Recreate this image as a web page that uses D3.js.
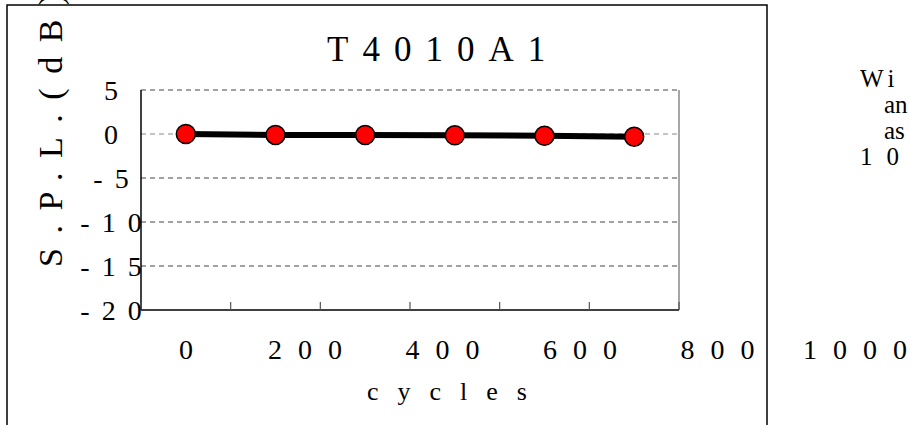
<!DOCTYPE html>
<html>
<head>
<meta charset="utf-8">
<script src="https://cdn.jsdelivr.net/npm/d3@7"></script>
<style>
  body { margin: 0; background: #fff; }
  svg { display: block; }
</style>
</head>
<body>
<div id="container"></div>
<script>
var categories = ['0', '200', '400', '600', '800', '1000'],
    splValues = [0, -0.1, -0.1, -0.15, -0.2, -0.3],
    yTicks = [5, 0, -5, -10, -15, -20],
    sideNotes = ['Wi', 'an', 'as', '10'];

var WIDTH = 910,
    HEIGHT = 425,
    SERIF = '"Liberation Serif", "DejaVu Serif", "Times New Roman", Times, serif';

var svg = d3.select('#container').append('svg')
    .attr('width', WIDTH)
    .attr('height', HEIGHT)
    .attr('font-family', SERIF)
    .style('font-family', SERIF);

// outer chart frame, runs off the bottom of the page
svg.append('rect')
    .attr('x', 7).attr('y', 5)
    .attr('width', 760).attr('height', 440)
    .attr('fill', 'none')
    .attr('stroke', '#000')
    .attr('stroke-width', 1.5);

var x = d3.scaleBand()
    .domain(categories)
    .range([141, 679]);

var y = d3.scaleLinear()
    .domain([-20, 5])
    .range([310, 90]);

// where the stretched category labels land
var labelX = d3.scaleLinear()
    .domain([0, 200, 1000])
    .range([186, 305, 855]);

function cx(d, i) { return x(categories[i]) + x.bandwidth() / 2; }

// gridlines
svg.append('g').selectAll('line')
    .data(yTicks.filter(function(d) { return d > -20; }))
    .enter()
    .append('line')
      .attr('x1', x.range()[0]).attr('x2', x.range()[1])
      .attr('y1', function(d) { return y(d); })
      .attr('y2', function(d) { return y(d); })
      .attr('stroke', function(d) { return d == 0 ? '#888' : '#444'; })
      .attr('stroke-width', 1)
      .attr('stroke-dasharray', '5,4');

// right edge of plot area
svg.append('line')
    .attr('x1', 679).attr('x2', 679)
    .attr('y1', y(5)).attr('y2', y(-20))
    .attr('stroke', '#888')
    .attr('stroke-width', 1.5);

// axes
svg.append('line')
    .attr('x1', x.range()[0]).attr('x2', x.range()[0])
    .attr('y1', y(5)).attr('y2', y(-20))
    .attr('stroke', '#000').attr('stroke-width', 1.5);
svg.append('line')
    .attr('x1', x.range()[0]).attr('x2', x.range()[1])
    .attr('y1', y(-20)).attr('y2', y(-20))
    .attr('stroke', '#000').attr('stroke-width', 1.5);

// category boundary ticks, pointing up into the plot
var bounds = categories.map(function(c) { return x(c); }).concat([x.range()[1]]);
svg.append('g').selectAll('line')
    .data(bounds)
    .enter()
    .append('line')
      .attr('x1', function(d) { return d; })
      .attr('x2', function(d) { return d; })
      .attr('y1', y(-20)).attr('y2', y(-20) - 8)
      .attr('stroke', '#555').attr('stroke-width', 1.2);

// y tick labels
svg.append('g').selectAll('text')
    .data(yTicks)
    .enter()
    .append('text')
      .attr('x', 117)
      .attr('y', function(d) { return y(d) + 10; })
      .attr('text-anchor', 'middle')
      .style('font-size', '28px')
      .style('letter-spacing', '12px')
      .text(function(d) { return String(d); });

// x tick labels
svg.append('g').selectAll('text')
    .data(categories)
    .enter()
    .append('text')
      .attr('x', function(d) { return labelX(+d) + 8; })
      .attr('y', 359)
      .attr('text-anchor', 'middle')
      .style('font-size', '28px')
      .style('letter-spacing', '16px')
      .text(function(d) { return d; });

// series line + markers
var line = d3.line()
    .x(cx)
    .y(function(d) { return y(d); });

svg.append('path')
    .datum(splValues)
    .attr('d', line)
    .attr('fill', 'none')
    .attr('stroke', '#000')
    .attr('stroke-width', 6);

svg.append('g').selectAll('circle')
    .data(splValues)
    .enter()
    .append('circle')
      .attr('cx', cx)
      .attr('cy', function(d) { return y(d); })
      .attr('r', 9.5)
      .attr('fill', '#f00')
      .attr('stroke', '#000')
      .attr('stroke-width', 1.5);

// title
svg.append('text')
    .attr('x', 327).attr('y', 61)
    .style('font-size', '35px')
    .style('letter-spacing', '14px')
    .text('T4010A1');

// axis titles
svg.append('text')
    .attr('transform', 'translate(62,267) rotate(-90)')
    .style('font-size', '34px')
    .style('letter-spacing', '14.5px')
    .text('S.P.L.(dB)');

svg.append('text')
    .attr('x', 367).attr('y', 400)
    .style('font-size', '26px')
    .style('letter-spacing', '19px')
    .text('cycles');

// clipped note text at the right edge
var noteStyle = [
  {x: 860, ls: '5px'},
  {x: 884, ls: '0px'},
  {x: 884, ls: '0px'},
  {x: 860, ls: '14px'}
];
svg.append('g').selectAll('text')
    .data(sideNotes)
    .enter()
    .append('text')
      .attr('x', function(d, i) { return noteStyle[i].x; })
      .attr('y', function(d, i) { return 87 + i * 26; })
      .style('font-size', '25px')
      .style('letter-spacing', function(d, i) { return noteStyle[i].ls; })
      .text(function(d) { return d; });
</script>
</body>
</html>
